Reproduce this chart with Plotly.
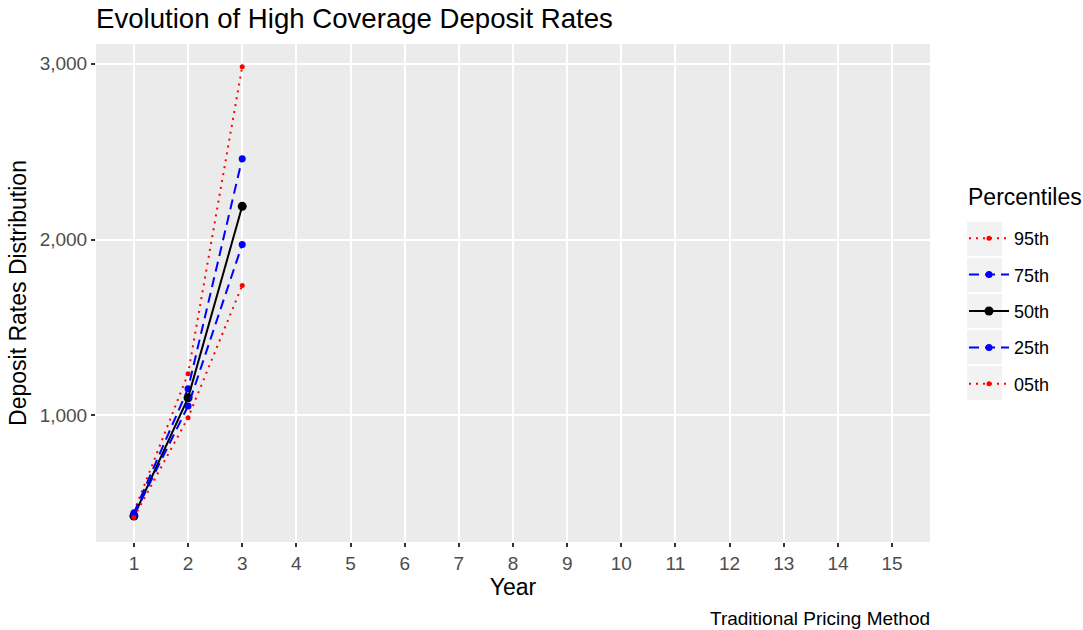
import plotly.graph_objects as go

years = [1, 2, 3]
p95 = [452, 1237, 2983]
p75 = [445, 1152, 2460]
p50 = [428, 1100, 2189]
p25 = [433, 1053, 1972]
p05 = [420, 987, 1739]

series = [
    ("95th", p95, "red", "2px,5px", 5),
    ("75th", p75, "blue", "10px,6px", 7),
    ("50th", p50, "black", "solid", 9),
    ("25th", p25, "blue", "10px,6px", 7),
    ("05th", p05, "red", "2px,5px", 5),
]

fig = go.Figure()
for name, vals, col, dash, msize in series:
    fig.add_trace(go.Scatter(
        x=years, y=vals, name=name, legendgroup=name,
        mode="lines+markers",
        line=dict(color=col, dash=dash, width=2),
        marker=dict(color=col, size=msize),
    ))

L, R, T, B = 96, 930, 44, 542
pw, ph = R - L, B - T
font = "Liberation Sans, Arial, sans-serif"

# legend key backgrounds (ggplot-style grey boxes)
shapes = []
for cy in [239, 275, 311, 347, 383]:
    shapes.append(dict(type="rect", xref="paper", yref="paper",
                       x0=(967 - L) / pw, x1=(1002 - L) / pw,
                       y0=(B - (cy + 17)) / ph, y1=(B - (cy - 17)) / ph,
                       fillcolor="#f2f2f2", line=dict(width=0), layer="below"))

fig.update_layout(
    width=1083, height=630,
    margin=dict(l=L, r=1083 - R, t=T, b=630 - B, autoexpand=False),
    paper_bgcolor="white",
    plot_bgcolor="#ebebeb",
    font=dict(family=font, color="black"),
    title=dict(text="Evolution of High Coverage Deposit Rates", x=L / 1083, xanchor="left",
               y=1 - 18 / 630, yanchor="middle", font=dict(size=27.6, color="black")),
    xaxis=dict(range=[0.3, 15.7], tickvals=list(range(1, 16)), showgrid=True,
               gridcolor="white", gridwidth=2, zeroline=False,
               ticks="outside", ticklen=4, tickwidth=2, tickcolor="#333333",
               tickfont=dict(size=19, color="#4d4d4d"),
               title=dict(text="Year", font=dict(size=23, color="black"), standoff=5)),
    yaxis=dict(range=[280, 3112], tickvals=[1000, 2000, 3000], tickformat=",",
               showgrid=True, gridcolor="white", gridwidth=2, zeroline=False,
               ticks="outside", ticklen=4, tickwidth=2, tickcolor="#333333",
               tickfont=dict(size=19, color="#4d4d4d"),
               title=dict(text="Deposit Rates Distribution", font=dict(size=23, color="black"), standoff=6)),
    legend=dict(x=(964 - L) / pw, xanchor="left", y=(B - 220) / ph, yanchor="top",
                font=dict(size=18), tracegroupgap=10, itemwidth=40,
                bgcolor="rgba(0,0,0,0)"),
    shapes=shapes,
    annotations=[
        dict(text="Percentiles", xref="paper", yref="paper",
             x=(966 - L) / pw, y=(B - 197) / ph, xanchor="left", yanchor="middle",
             showarrow=False, font=dict(size=23, color="black")),
        dict(text="Traditional Pricing Method", xref="paper", yref="paper",
             x=(932 - L) / pw, y=-(618 - B) / ph, xanchor="right", yanchor="middle",
             showarrow=False, font=dict(size=19, color="black")),
    ],
)

fig.write_html("out.html", config={"displayModeBar": False},
               post_script="document.body.style.margin='0';")
